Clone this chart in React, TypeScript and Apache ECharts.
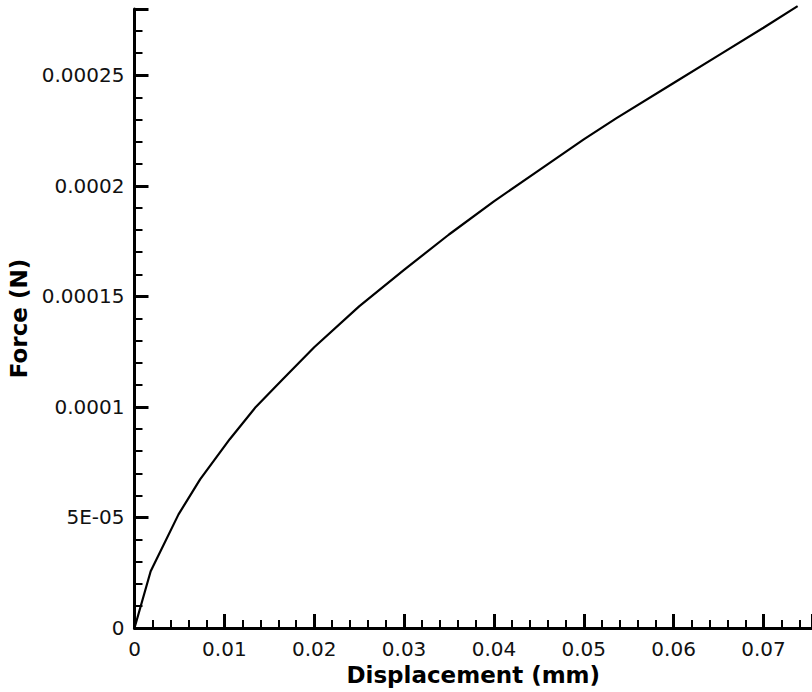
import React, { useEffect, useRef } from "react";
import * as echarts from "echarts";

// Displacement (mm)
const displacement = [
  0, 0.0018, 0.0049, 0.0073, 0.0106, 0.0135, 0.0165, 0.02, 0.025, 0.03, 0.035,
  0.04, 0.045, 0.05, 0.0536, 0.06, 0.065, 0.07, 0.0738,
];
// Force (N)
const force = [
  0, 0.0000257, 0.0000514, 0.0000672, 0.0000854, 0.0001, 0.0001125, 0.000127,
  0.0001455, 0.000162, 0.000178, 0.000193, 0.000207, 0.000221, 0.0002305,
  0.0002465, 0.000259, 0.0002715, 0.0002813,
];

const xTicks = [0, 0.01, 0.02, 0.03, 0.04, 0.05, 0.06, 0.07];
const xTickLabels = ["0", "0.01", "0.02", "0.03", "0.04", "0.05", "0.06", "0.07"];
const yTicks = [0, 0.00005, 0.0001, 0.00015, 0.0002, 0.00025];
const yTickLabels = ["0", "5E-05", "0.0001", "0.00015", "0.0002", "0.00025"];

const X_MAX = 0.0754;
const X_INTERVAL = 0.01;
const Y_MAX = 0.00028;
const Y_INTERVAL = 0.00005;

function labelFor(v: number, ticks: number[], labels: string[]) {
  for (let i = 0; i < ticks.length; i++) {
    if (Math.abs(ticks[i] - v) < 1e-12) return labels[i];
  }
  return "";
}

const FONT = "DejaVu Sans";

export default function App() {
  const ref = useRef<HTMLDivElement>(null);
  useEffect(() => {
    if (!ref.current) return;
    const chart = echarts.init(ref.current, undefined, { renderer: "svg" });
    const labelStyle = { color: "#111", fontFamily: FONT, fontSize: 20 };
    const nameStyle = { color: "#000", fontFamily: FONT, fontSize: 23, fontWeight: "bold" };
    chart.setOption({
      animation: false,
      backgroundColor: "#fff",
      grid: {
        left: 134.5,
        top: 9,
        right: 0,
        bottom: 64,
        containLabel: false,
        outerBoundsMode: "none",
      },
      xAxis: {
        type: "value",
        position: "bottom",
        min: 0,
        max: X_MAX,
        interval: X_INTERVAL,
        axisLine: { show: true, onZero: false, lineStyle: { color: "#000", width: 3 } },
        axisTick: {
          show: true,
          inside: true,
          length: 14,
          lineStyle: { color: "#000", width: 3 },
        },
        minorTick: { show: true, splitNumber: 5, length: 8, lineStyle: { color: "#000", width: 2 } },
        axisLabel: {
          ...labelStyle,
          margin: 11,
          showMaxLabel: false,
          formatter: (v: number) => labelFor(v, xTicks, xTickLabels),
        },
        splitLine: { show: false },
        name: "Displacement (mm)",
        nameLocation: "middle",
        nameGap: 30,
        nameTextStyle: nameStyle,
      },
      yAxis: {
        type: "value",
        position: "left",
        min: 0,
        max: Y_MAX,
        interval: Y_INTERVAL,
        axisLine: { show: true, onZero: false, lineStyle: { color: "#000", width: 3 } },
        axisTick: {
          show: true,
          inside: true,
          length: 14,
          lineStyle: { color: "#000", width: 3 },
        },
        minorTick: { show: true, splitNumber: 5, length: 8, lineStyle: { color: "#000", width: 2 } },
        axisLabel: {
          ...labelStyle,
          margin: 10,
          showMaxLabel: false,
          formatter: (v: number) => labelFor(v, yTicks, yTickLabels),
        },
        splitLine: { show: false },
        name: "Force (N)",
        nameLocation: "middle",
        nameRotate: 90,
        nameGap: 99,
        nameTextStyle: nameStyle,
      },
      series: [
        {
          type: "line",
          data: displacement.map((x, i) => [x, force[i]]),
          showSymbol: false,
          symbol: "none",
          clip: false,
          lineStyle: { color: "#000", width: 2.2 },
        },
      ],
    });
    return () => chart.dispose();
  }, []);
  return (
    <div
      ref={ref}
      style={{ position: "absolute", left: 0, top: 0, width: 812, height: 692 }}
    />
  );
}
